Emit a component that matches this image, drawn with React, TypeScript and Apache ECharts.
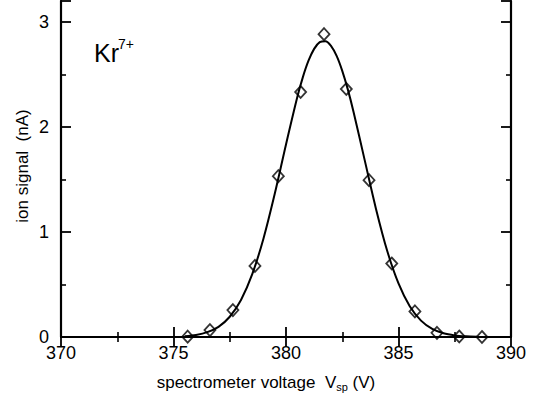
import React, { useEffect, useRef } from "react";
import * as echarts from "echarts";

// measured data points (spectrometer voltage V, ion signal nA)
const pointVoltage = [375.63, 376.62, 377.64, 378.62, 379.66, 380.65, 381.69, 382.68, 383.69, 384.7, 385.73, 386.71, 387.7, 388.71];
const pointSignal = [0.003, 0.066, 0.256, 0.677, 1.532, 2.333, 2.884, 2.362, 1.494, 0.7, 0.244, 0.04, 0.005, 0.0];

// fitted curve
const curveVoltage = [375.5, 376, 376.5, 377, 377.5, 378, 378.5, 379, 379.5, 380, 380.5, 380.75, 381, 381.25, 381.5, 381.75, 382, 382.25, 382.5, 382.75, 383, 383.5, 384, 384.5, 385, 385.5, 386, 386.5, 387, 387.5, 388, 388.5];
const curveSignal = [0.008, 0.02, 0.046, 0.097, 0.193, 0.353, 0.598, 0.939, 1.364, 1.834, 2.283, 2.475, 2.631, 2.744, 2.808, 2.817, 2.773, 2.677, 2.535, 2.356, 2.146, 1.682, 1.22, 0.819, 0.51, 0.293, 0.156, 0.077, 0.035, 0.015, 0.006, 0.002];

const xMin = 370;
const xMax = 390;
const xStep = 5;
const yMin = 0;
const yMax = 3.2;
const yStep = 1;

const FONT = "'Liberation Sans', Arial, Helvetica, sans-serif";

export default function App() {
  const ref = useRef<HTMLDivElement>(null);
  useEffect(() => {
    document.body.style.margin = "0";
    if (!ref.current) return;
    const chart = echarts.init(ref.current, undefined, { renderer: "svg" });
    const axisLine = { show: true, lineStyle: { color: "#000", width: 2.2 } };
    const axisTick = { show: true, inside: true, length: 10, lineStyle: { color: "#000", width: 1.8 } };
    const minorTick = { show: true, splitNumber: 2, length: 5, lineStyle: { color: "#000", width: 1.6 } };
    const xBase = {
      type: "value" as const,
      min: xMin,
      max: xMax,
      interval: xStep,
      axisLine,
      axisTick,
      minorTick,
      splitLine: { show: false },
      minorSplitLine: { show: false },
    };
    const yBase = {
      type: "value" as const,
      min: yMin,
      max: yMax,
      interval: yStep,
      axisLine,
      axisTick,
      minorTick,
      splitLine: { show: false },
      minorSplitLine: { show: false },
    };
    chart.setOption({
      animation: false,
      backgroundColor: "#fff",
      grid: { left: 61, right: 28, top: 1, bottom: 61, containLabel: false },
      xAxis: [
        {
          ...xBase,
          position: "bottom",
          axisLabel: { show: true, color: "#000", fontSize: 18, fontFamily: FONT, margin: 7 },
        },
        { ...xBase, position: "top", axisLabel: { show: false } },
      ],
      yAxis: [
        {
          ...yBase,
          position: "left",
          axisLabel: {
            show: true,
            color: "#000",
            fontSize: 18,
            fontFamily: FONT,
            margin: 12,
            showMaxLabel: false,
            formatter: (v: number) => (Number.isInteger(v) ? String(v) : ""),
          },
        },
        { ...yBase, position: "right", axisLabel: { show: false } },
      ],
      series: [
        {
          type: "line",
          xAxisIndex: 0,
          yAxisIndex: 0,
          data: curveVoltage.map((x, i) => [x, curveSignal[i]]),
          smooth: 0.3,
          showSymbol: false,
          symbol: "none",
          lineStyle: { color: "#000", width: 2 },
          z: 2,
        },
        {
          type: "scatter",
          xAxisIndex: 0,
          yAxisIndex: 0,
          data: pointVoltage.map((x, i) => [x, pointSignal[i]]),
          symbol: "diamond",
          symbolSize: [11, 12],
          itemStyle: { color: "rgba(0,0,0,0)", borderColor: "#000", borderWidth: 1.8 },
          z: 3,
        },
      ],
      graphic: [
        {
          type: "text",
          x: 94,
          y: 53,
          style: { text: "Kr", fontSize: 25, fontFamily: FONT, fill: "#000", align: "left", verticalAlign: "middle", textAlign: "left", textVerticalAlign: "middle" },
        },
        {
          type: "text",
          x: 118,
          y: 43.5,
          style: { text: "7+", fontSize: 14, fontFamily: FONT, fill: "#000", align: "left", verticalAlign: "middle", textAlign: "left", textVerticalAlign: "middle" },
        },
        {
          type: "text",
          x: 22.7,
          y: 166,
          rotation: Math.PI / 2,
          style: { text: "ion signal  (nA)", fontSize: 17, fontFamily: FONT, fill: "#000", align: "center", verticalAlign: "middle", textAlign: "center", textVerticalAlign: "middle" },
        },
        {
          type: "text",
          x: 156.7,
          y: 382,
          style: {
            text: "{a|spectrometer voltage  V}{b|sp}{a| (V)}",
            fontFamily: FONT,
            fill: "#000",
            align: "left",
            verticalAlign: "middle",
            textAlign: "left",
            textVerticalAlign: "middle",
            rich: {
              a: { fontSize: 17, fontFamily: FONT, fill: "#000", lineHeight: 20 },
              b: { fontSize: 11, fontFamily: FONT, fill: "#000", lineHeight: 12, verticalAlign: "bottom" },
            },
          },
        },
      ],
    });
    return () => chart.dispose();
  }, []);
  return <div ref={ref} style={{ width: 539, height: 398 }} />;
}
